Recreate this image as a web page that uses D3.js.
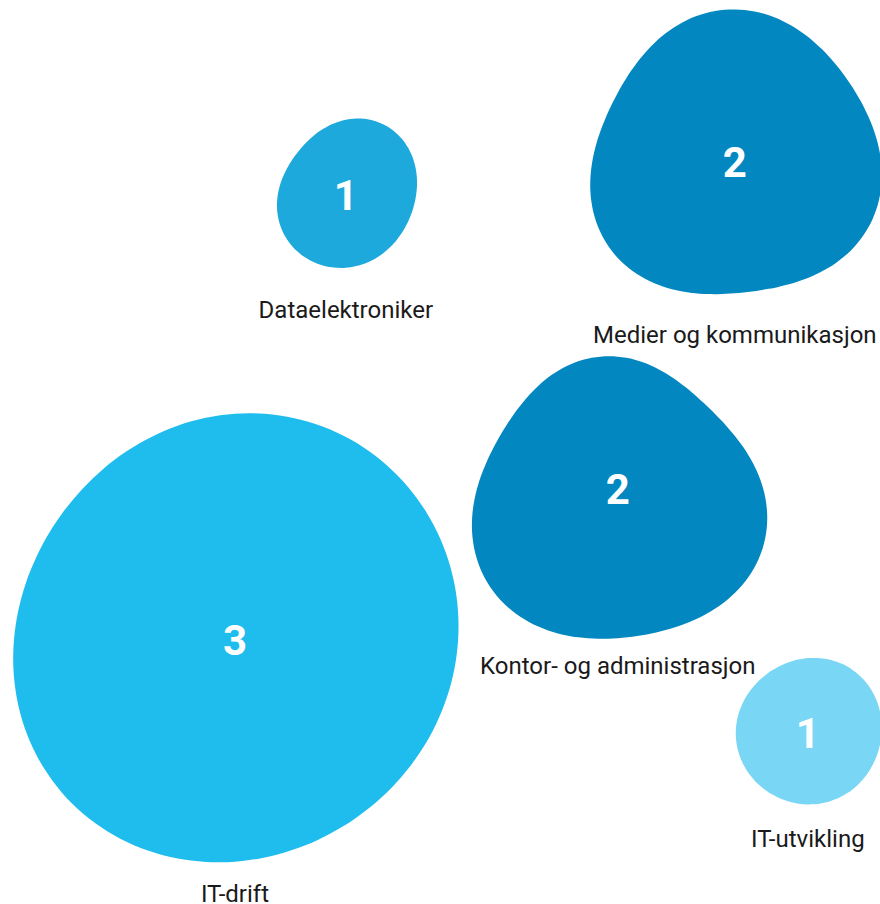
<!DOCTYPE html>
<html>
<head>
<meta charset="utf-8">
<script src="https://cdn.jsdelivr.net/npm/d3@7"></script>
<style>
    body { margin: 0; background: #fff; }
    svg { display: block; font-family: Roboto, "Noto Sans", sans-serif; }
</style>
</head>
<body>
<div id="chart"></div>
<script>
// data
const categories = ["Dataelektroniker", "Medier og kommunikasjon", "Kontor- og administrasjon", "IT-drift", "IT-utvikling"];
const values = [1, 2, 2, 3, 1];

// styles / layout (kept apart from the data)
const colours = ["#1ea9dc", "#0287c0", "#0287c0", "#1ebdee", "#79d6f5"];
const centresX = [0.393, 0.835, 0.702, 0.267, 0.918];   // fraction of width
const centresY = [0.216, 0.179, 0.541, 0.708, 0.811];   // fraction of height
const labelGap = [51, 34, 37, 39, 42];
// blob outlines: radius multipliers every 30deg, clockwise from 12 o'clock
const blobs = [
    [1.03, 1.12, 1.08, 0.96, 0.94, 0.97, 1.00, 1.02, 1.04, 0.92, 0.90, 0.95],
    [1.03, 0.97, 0.96, 0.99, 0.99, 0.94, 0.89, 0.96, 1.05, 0.96, 0.91, 1.00],
    [0.90, 0.82, 0.87, 0.98, 1.06, 1.04, 1.01, 1.06, 1.10, 0.94, 0.87, 0.90],
    [1.01, 1.04, 1.03, 1.00, 0.97, 0.97, 0.99, 1.03, 1.03, 0.99, 0.96, 0.98],
    [1.04, 1.08, 1.06, 1.02, 1.01, 0.99, 0.99, 0.99, 0.99, 1.00, 1.00, 1.00]
];

const width = 880, height = 904;

const data = categories.map((c, i) => ({
    category: c,
    value: values[i],
    colour: colours[i],
    cx: centresX[i],
    cy: centresY[i],
    gap: labelGap[i],
    blob: blobs[i]
}));

const svg = d3.select("#chart").append("svg")
    .attr("width", width)
    .attr("height", height);

const x = d3.scaleLinear().domain([0, 1]).range([0, width]);
const y = d3.scaleLinear().domain([0, 1]).range([0, height]);
const r = d3.scaleLinear().domain([1, 3]).range([72, 223]);

// keep only the low harmonics of the outline so the blob stays smooth
const smoothOutline = (m, harmonics = 3, samples = 96) => {
    const n = m.length;
    const coef = d3.range(harmonics + 1).map(k => {
        let a = 0, b = 0;
        m.forEach((v, j) => {
            const t = 2 * Math.PI * j / n;
            a += v * Math.cos(k * t);
            b += v * Math.sin(k * t);
        });
        return k === 0 ? [a / n, 0] : [2 * a / n, 2 * b / n];
    });
    return d3.range(samples).map(i => {
        const t = 2 * Math.PI * i / samples;
        return [t, coef.reduce((s, [a, b], k) => s + a * Math.cos(k * t) + b * Math.sin(k * t), 0)];
    });
};

const blobPath = d => d3.lineRadial()
    .angle(p => p[0])
    .radius(p => p[1] * r(d.value))
    .curve(d3.curveCatmullRomClosed)(smoothOutline(d.blob));

const node = svg.selectAll("g.bubble")
    .data(data)
    .join("g")
    .attr("class", "bubble")
    .attr("transform", d => `translate(${x(d.cx)},${y(d.cy)})`);

node.append("path")
    .attr("d", blobPath)
    .attr("fill", d => d.colour);

node.append("text")
    .attr("text-anchor", "middle")
    .attr("dy", "0.36em")
    .attr("fill", "#fff")
    .attr("font-size", 42)
    .attr("font-weight", 700)
    .text(d => d.value);

node.append("text")
    .attr("text-anchor", "middle")
    .attr("y", d => r(d.value) + d.gap)
    .attr("fill", "#1a1a1a")
    .attr("font-size", 24)
    .text(d => d.category);
</script>
</body>
</html>
